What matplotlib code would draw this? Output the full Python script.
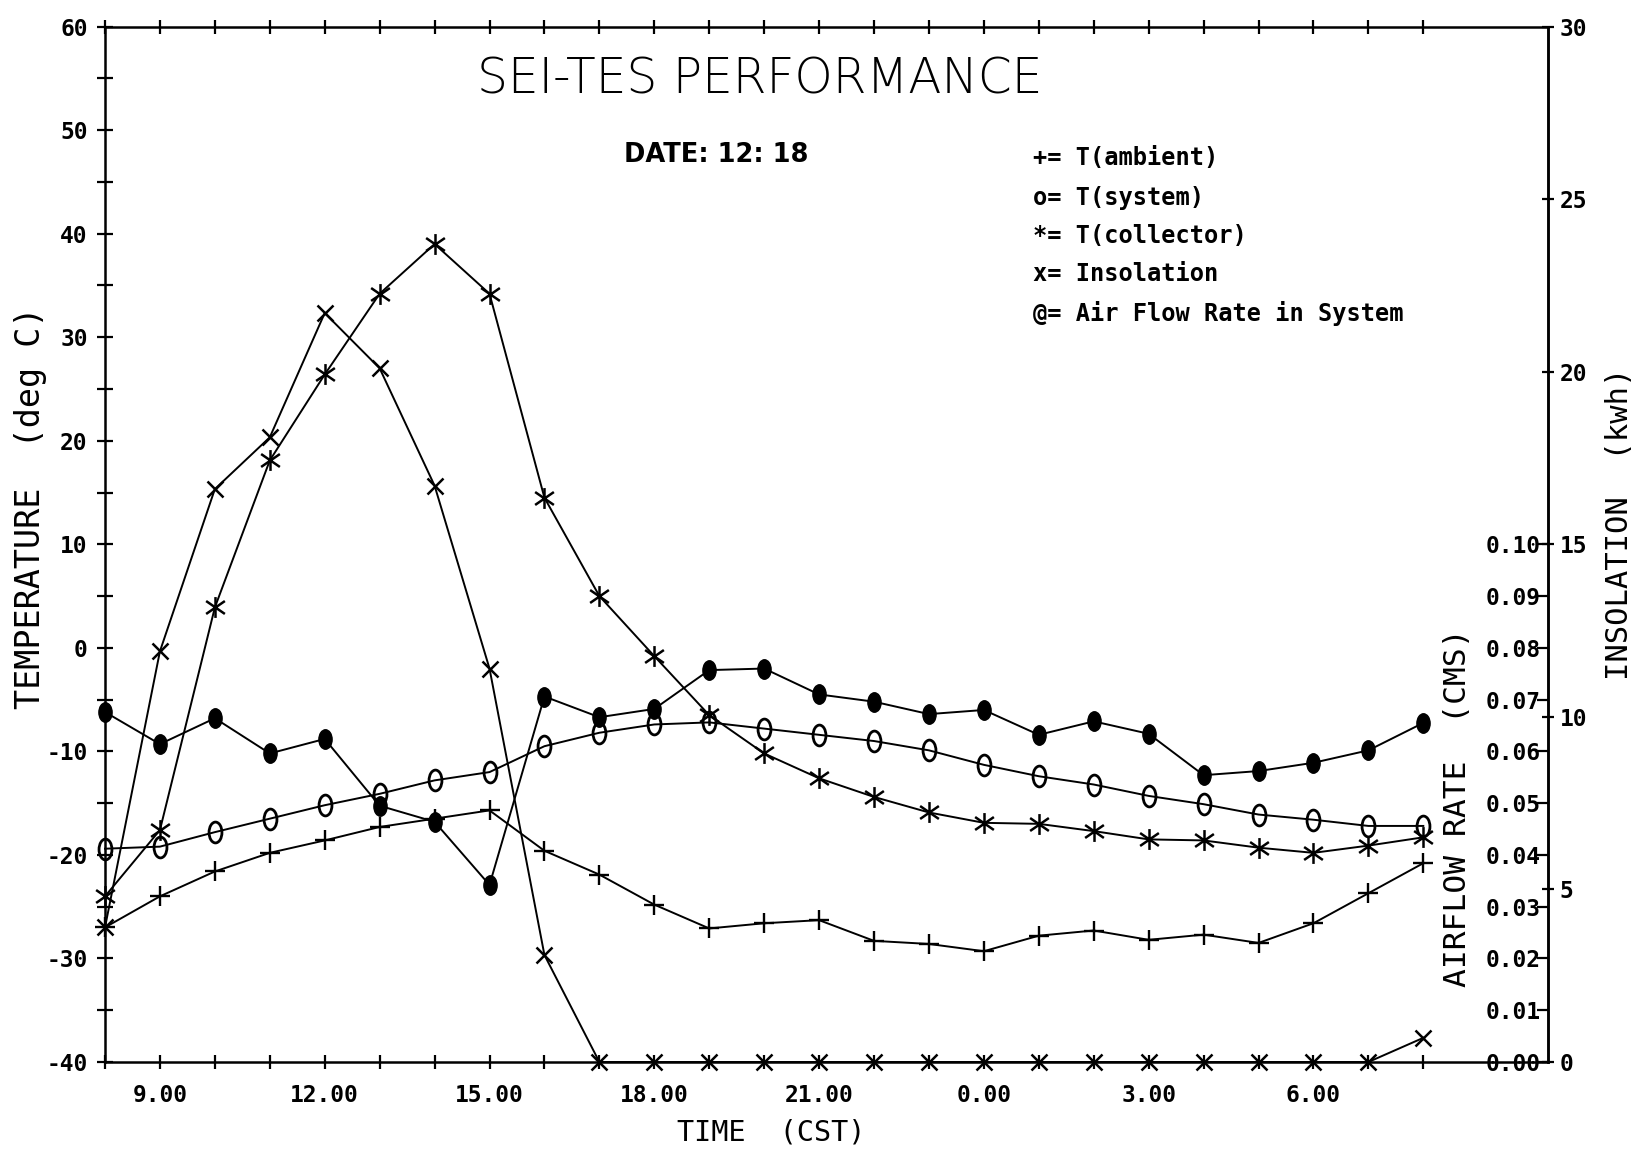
import matplotlib
matplotlib.use("Agg")
import matplotlib.pyplot as plt
from matplotlib.markers import MarkerStyle
from matplotlib.path import Path
from matplotlib.transforms import Affine2D

# ---------------- data ----------------
hours = list(range(8, 33))  # 8:00 .. 8:00 next day (CST)
t_ambient = [-27.0, -24.0, -21.6, -19.8, -18.6, -17.3, -16.5, -15.7, -19.6, -21.9,
             -24.8, -27.1, -26.6, -26.3, -28.3, -28.6, -29.3, -27.8, -27.3, -28.2,
             -27.7, -28.5, -26.6, -23.7, -20.8]
t_system = [-19.4, -19.2, -17.8, -16.5, -15.2, -14.1, -12.8, -12.0, -9.5, -8.2,
            -7.4, -7.2, -7.8, -8.4, -9.0, -9.9, -11.3, -12.4, -13.2, -14.3,
            -15.1, -16.1, -16.6, -17.2, -17.2]
t_collector = [-24.0, -17.6, 3.9, 18.1, 26.4, 34.2, 39.0, 34.2, 14.5, 5.0,
               -0.8, -6.5, -10.2, -12.6, -14.4, -15.9, -16.9, -17.0, -17.7, -18.5,
               -18.6, -19.3, -19.8, -19.1, -18.3]
insolation = [3.9, 11.9, 16.6, 18.1, 21.7, 20.1, 16.7, 11.4, 3.1, 0.0,
              0.0, 0.0, 0.0, 0.0, 0.0, 0.0, 0.0, 0.0, 0.0, 0.0,
              0.0, 0.0, 0.0, 0.0, 0.7]
airflow = [0.0676, 0.0614, 0.0664, 0.0596, 0.0624, 0.0495, 0.0464, 0.0342, 0.0706, 0.0666,
           0.0682, 0.0757, 0.0760, 0.0710, 0.0696, 0.0672, 0.0680, 0.0632, 0.0658, 0.0634,
           0.0554, 0.0562, 0.0578, 0.0602, 0.0655]

x_tick_pos = [9, 12, 15, 18, 21, 24, 27, 30]
x_tick_labels = ["9.00", "12.00", "15.00", "18.00", "21.00", "0.00", "3.00", "6.00"]
temp_ticks = [-40, -30, -20, -10, 0, 10, 20, 30, 40, 50, 60]
temp_minor = [-35, -25, -15, -5, 5, 15, 25, 35, 45, 55]
ins_ticks = [0, 5, 10, 15, 20, 25, 30]
air_ticks = [0.00, 0.01, 0.02, 0.03, 0.04, 0.05, 0.06, 0.07, 0.08, 0.09, 0.10]

title = "SEI-TES PERFORMANCE"
date_text = "DATE: 12: 18"
legend_lines = ["+= T(ambient)", "o= T(system)", "*= T(collector)",
                "x= Insolation", "@= Air Flow Rate in System"]

# ---------------- figure ----------------
W, H = 1636, 1150
fig = plt.figure(figsize=(W / 100, H / 100), dpi=100)
fig.patch.set_facecolor("white")


def fx(x):
    return x / W


def fy(y):
    return 1 - y / H


ax = fig.add_axes([fx(105), fy(1062), (1548 - 105) / W, (1062 - 26.6) / H])
ax2 = ax.twinx()
ax3 = ax.twinx()

TICKFONT = dict(family="DejaVu Sans Mono", weight="bold", size=16.5)
LW = 1.4
SPW = 1.8

for s in ax.spines.values():
    s.set_linewidth(SPW)
for s in ax2.spines.values():
    s.set_visible(False)
ax2.spines["right"].set_visible(True)
ax2.spines["right"].set_linewidth(SPW)
for s in ax3.spines.values():
    s.set_visible(False)

# x axis
ax.set_xlim(8, 34.27)
ax.set_xticks(x_tick_pos, labels=x_tick_labels)
ax.set_xticks(hours, minor=True)
ax.tick_params(axis="x", which="both", direction="inout", length=10, width=1.6,
               top=True, bottom=True, labeltop=False, pad=11)
for lab in ax.get_xticklabels():
    lab.set_fontproperties(TICKFONT)

# left temperature axis
ax.set_ylim(-40, 60)
ax.set_yticks(temp_ticks, labels=[str(t) for t in temp_ticks])
ax.set_yticks(temp_minor, minor=True)
ax.tick_params(axis="y", which="both", direction="inout", length=11, width=1.6,
               left=True, right=False, pad=7)
for lab in ax.get_yticklabels():
    lab.set_fontproperties(TICKFONT)

# right insolation axis
ax2.set_ylim(0, 30)
ax2.set_yticks(ins_ticks, labels=[str(v) for v in ins_ticks])
ax2.tick_params(axis="y", direction="inout", length=9, width=1.6, pad=4)
for lab in ax2.get_yticklabels():
    lab.set_fontproperties(TICKFONT)

# airflow axis (labels to the left of the right spine)
ax3.set_ylim(0, 0.2)
ax3.set_yticks(air_ticks, labels=["%.2f" % v for v in air_ticks], ha="right")
ax3.tick_params(axis="y", direction="in", length=8, width=1.6, pad=-5)
for lab in ax3.get_yticklabels():
    lab.set_fontproperties(TICKFONT)

# ---------------- markers ----------------
m_plus = "+"
m_zero = MarkerStyle("o", fillstyle="none", transform=Affine2D().scale(0.62, 1.0))
m_at = MarkerStyle("o", transform=Affine2D().scale(0.68, 1.0))
star_path = Path([(0, -1), (0, 1), (-0.9, -0.62), (0.9, 0.62), (-0.9, 0.62), (0.9, -0.62)],
                 [Path.MOVETO, Path.LINETO, Path.MOVETO, Path.LINETO, Path.MOVETO, Path.LINETO])
m_star = MarkerStyle(star_path, fillstyle="none")
m_x = "x"

common = dict(color="black", lw=LW, clip_on=False)
ax.plot(hours, t_ambient, marker=m_plus, ms=15, mew=1.7, **common)
ax.plot(hours, t_system, marker=m_zero, ms=15, mew=2.0, mfc="none", **common)
ax.plot(hours, t_collector, marker=m_star, ms=15, mew=1.8, mfc="none", **common)
ax2.plot(hours, insolation, marker=m_x, ms=12, mew=1.8, **common)
ax3.plot(hours, airflow, marker=m_at, ms=14, mfc="black", mec="black", mew=1.0, **common)

# ---------------- texts ----------------
fig.text(fx(760), fy(80), title, ha="center", va="center",
         family="DejaVu Sans", fontsize=35, weight="light")
fig.text(fx(716), fy(155), date_text, ha="center", va="center",
         family="DejaVu Sans", fontsize=18.5, weight="bold")
for i, ln in enumerate(legend_lines):
    yy = [158, 198, 236, 274, 313][i]
    fig.text(fx(1033), fy(yy), ln, ha="left", va="center",
             family="DejaVu Sans Mono", fontsize=17, weight="bold")

fig.text(fx(31), fy(508), "TEMPERATURE  (deg C)", rotation=90, ha="center", va="center",
         family="DejaVu Sans Mono", fontsize=24)
fig.text(fx(1620), fy(524), "INSOLATION  (kwh)", rotation=90, ha="center", va="center",
         family="DejaVu Sans Mono", fontsize=22)
fig.text(fx(1458), fy(808), "AIRFLOW RATE  (CMS)", rotation=90, ha="center", va="center",
         family="DejaVu Sans Mono", fontsize=22.5)
fig.text(fx(771), fy(1132), "TIME  (CST)", ha="center", va="center",
         family="DejaVu Sans Mono", fontsize=20.5)

fig.savefig("out.png", dpi=100, facecolor="white")
